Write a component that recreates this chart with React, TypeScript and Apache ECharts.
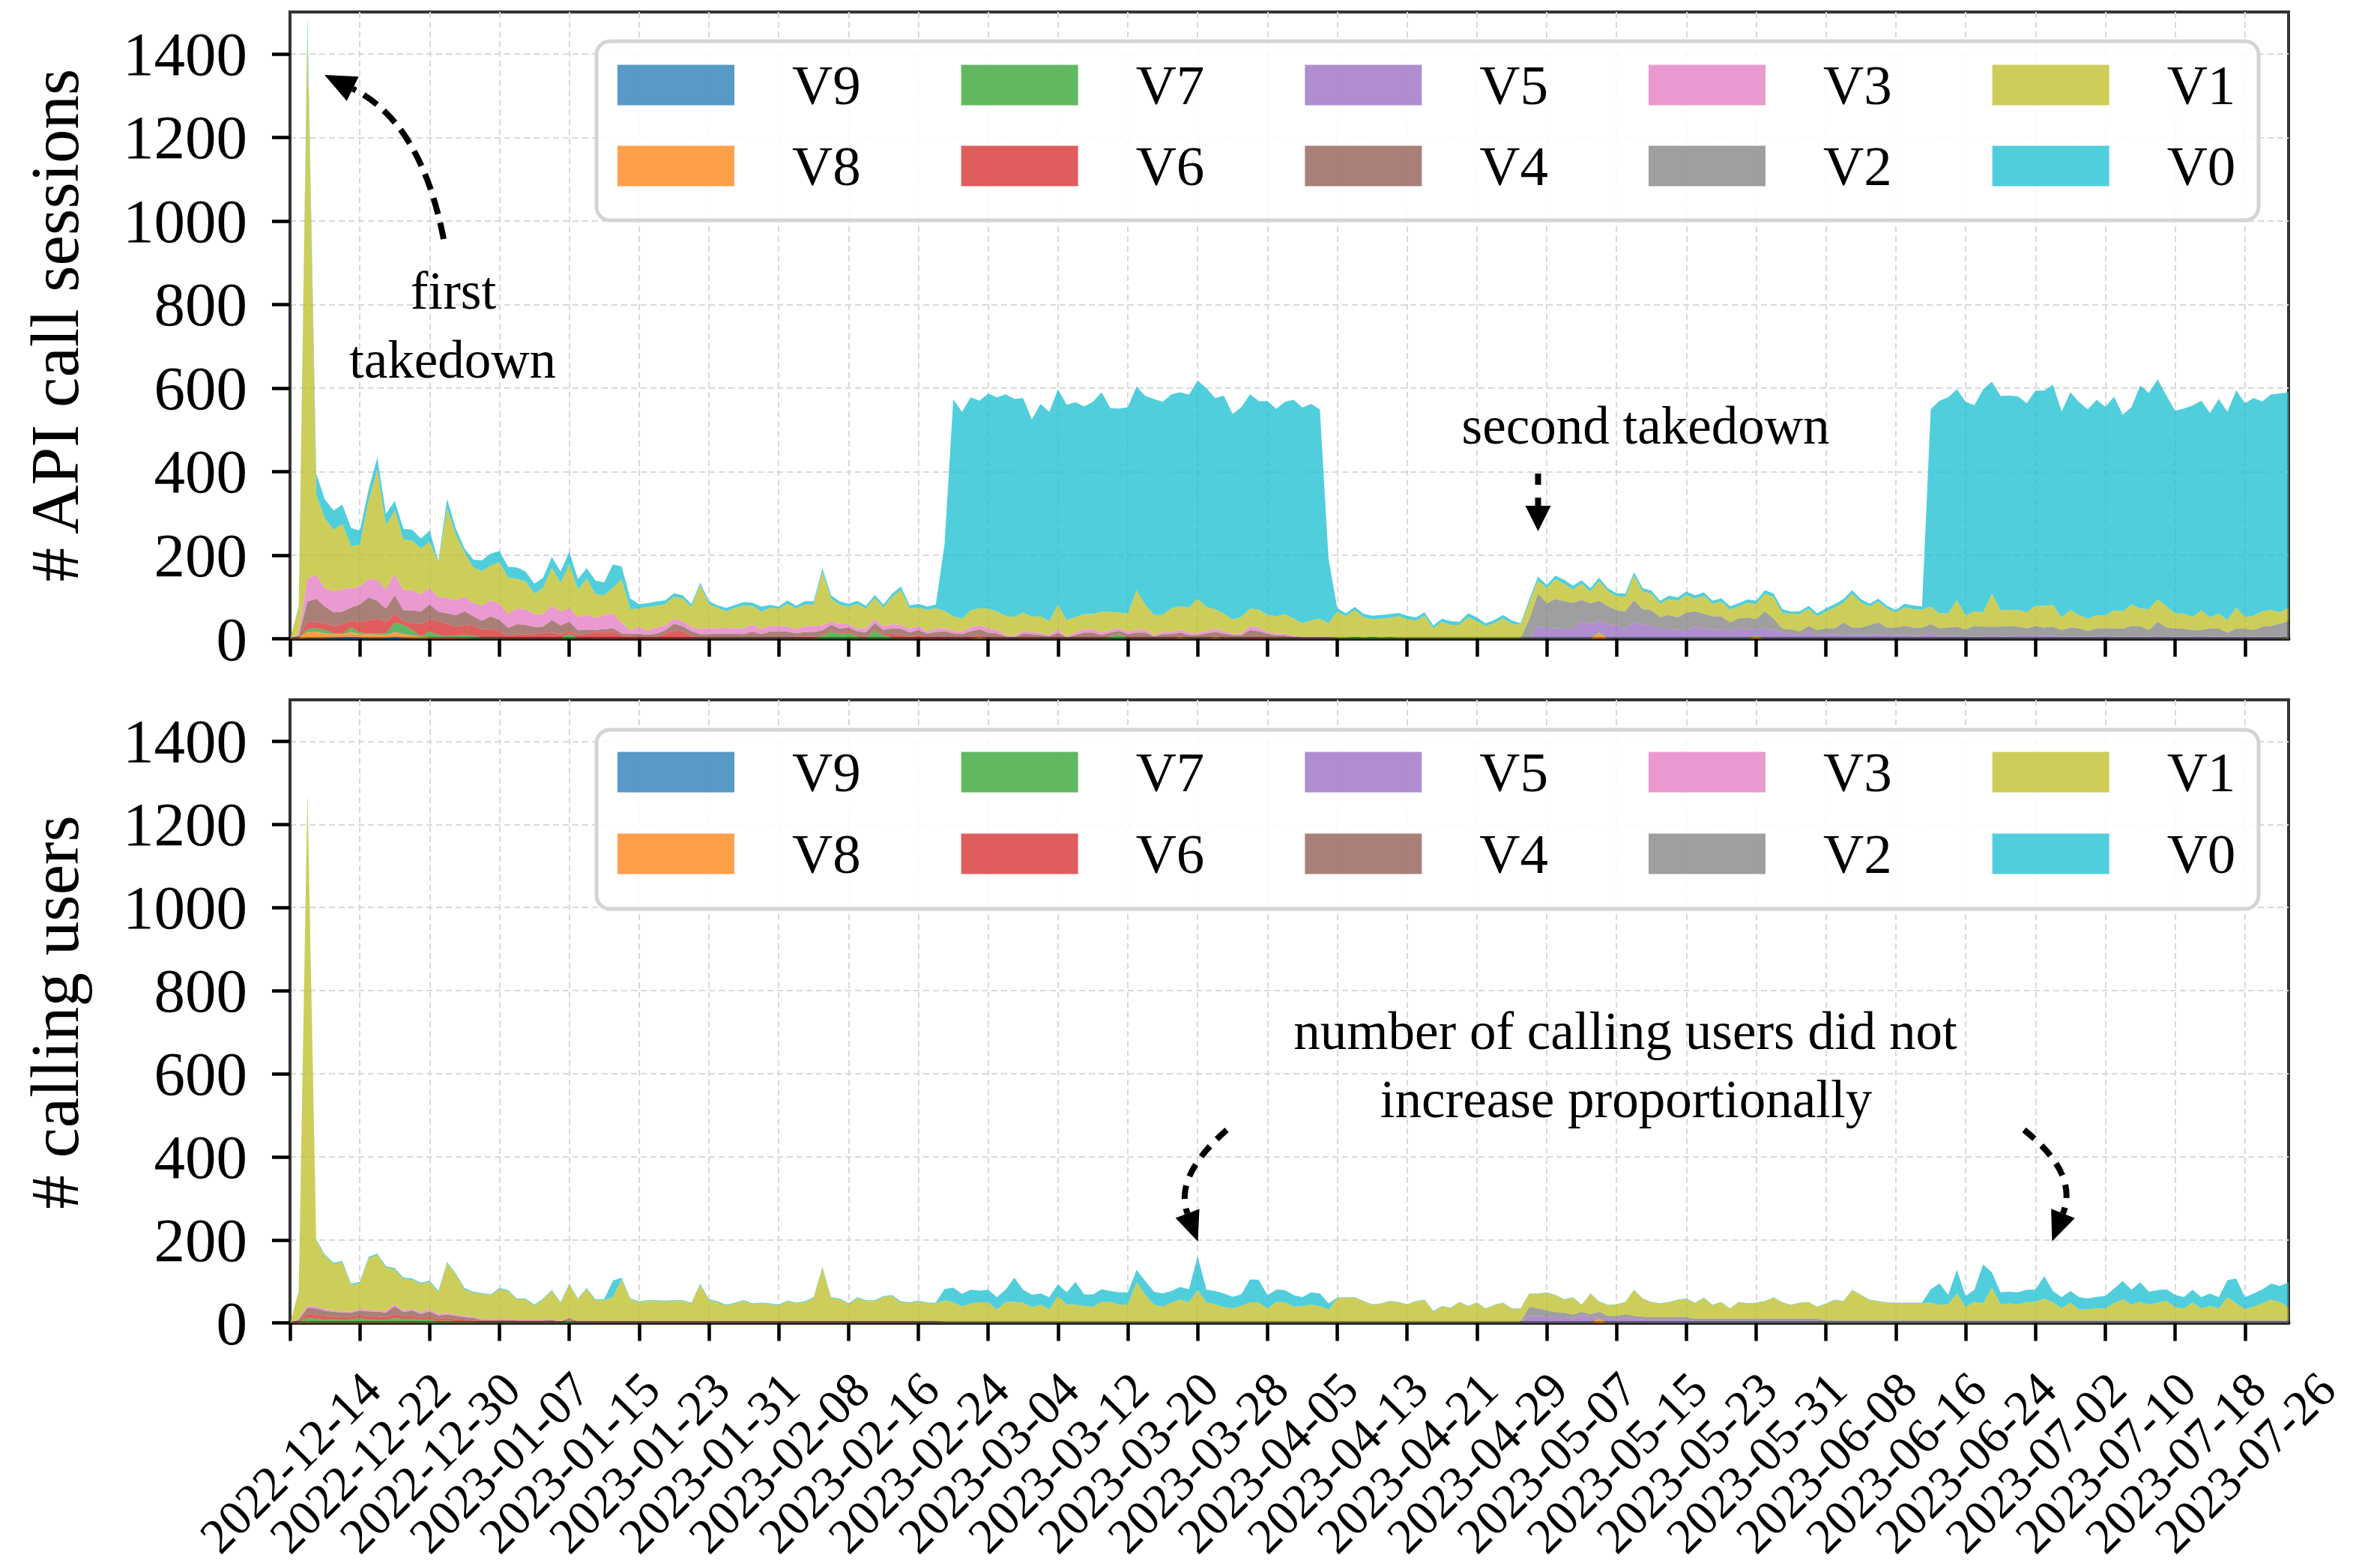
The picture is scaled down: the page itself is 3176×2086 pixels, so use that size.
import React, { useEffect, useRef } from "react";
import * as echarts from "echarts";

// ---------- categories ----------
const START_DATE = "2022-12-14"; // first day on the x axis, one value per day
const SERIES_NAMES = ["V9", "V8", "V7", "V6", "V5", "V4", "V3", "V2", "V1", "V0"];
const SERIES_COLORS = ["#1f77b4", "#ff7f0e", "#2ca02c", "#d62728", "#9467bd", "#8c564b", "#e377c2", "#7f7f7f", "#bcbd22", "#17becf"];
const Y_TICKS = [0, 200, 400, 600, 800, 1000, 1200, 1400];
const LEGEND_ROW1 = ["V9", "V7", "V5", "V3", "V1"];
const LEGEND_ROW2 = ["V8", "V6", "V4", "V2", "V0"];

// ---------- panel 1: # API call sessions (daily) ----------
const sessV0 = [
  0,3,30,51,45,46,46,43,34,27,
  28,28,23,25,26,24,27,3,23,15,
  9,18,26,29,27,26,27,24,24,24,
  26,27,30,25,25,32,31,56,31,25,
  11,9,10,9,8,8,7,6,7,6,
  8,7,8,7,12,7,5,8,7,8,
  8,7,8,8,7,7,7,7,7,8,
  9,8,9,8,9,159,519,495,510,497,
  515,513,530,522,513,472,508,501,516,515,
  514,497,508,525,488,488,494,488,500,517,
  510,512,512,509,522,524,505,522,492,502,
  513,499,512,496,508,524,516,518,501,154,
  8,7,7,9,8,9,9,8,8,8,
  8,7,8,9,8,9,9,7,8,8,
  8,4,7,9,8,8,9,9,8,8,
  8,7,7,8,8,8,7,7,8,8,
  8,8,8,7,8,8,7,8,8,8,
  8,10,5,6,7,7,7,8,8,8,
  8,7,7,7,6,9,9,8,472,509,
  517,504,512,493,534,507,513,513,511,501,
  515,515,527,493,521,509,501,515,500,511,
  470,472,534,517,527,504,485,491,506,502,
  489,514,498,520,512,521,502,516,524,515,
];
const sessV1 = [
  0,63,1310,192,167,147,156,101,99,187,
  264,152,152,121,119,109,111,83,214,157,
  106,86,82,83,99,86,71,67,49,63,
  90,68,105,66,86,57,48,61,104,51,
  44,56,52,51,53,54,48,104,58,49,
  40,49,55,45,42,43,41,54,49,52,
  51,130,54,46,42,59,47,50,45,65,
  83,48,45,51,49,42,35,31,40,41,
  47,44,46,46,44,37,40,33,58,40,
  37,36,36,50,43,38,43,94,59,48,
  41,57,56,60,83,57,47,42,34,40,
  42,43,41,42,47,40,32,39,43,32,
  63,52,64,49,42,46,46,52,45,41,
  53,23,38,31,31,50,40,28,35,47,
  34,31,40,32,36,48,42,32,39,28,
  47,36,34,34,59,42,40,32,38,40,
  42,30,43,30,35,31,29,35,36,42,
  52,37,37,42,41,33,41,50,48,81,
  60,44,50,45,36,44,44,42,42,36,
  34,64,33,35,34,79,39,38,40,38,
  48,52,52,30,42,32,29,32,30,43,
  42,51,42,50,53,51,36,36,31,47,
  26,36,30,51,28,34,37,38,27,33,
];
const sessV2 = [
  0,0,0,0,0,0,0,0,0,0,
  0,0,0,0,0,0,0,0,0,0,
  0,0,0,0,0,0,0,0,0,0,
  0,0,0,0,0,0,0,0,0,0,
  0,0,0,0,0,0,0,0,0,0,
  0,0,0,0,0,0,0,0,0,0,
  0,0,0,0,0,0,0,0,0,0,
  0,0,0,0,0,0,0,0,0,0,
  0,0,0,0,0,0,0,0,0,0,
  0,0,0,0,0,0,0,0,0,0,
  0,0,0,0,0,0,0,0,0,0,
  0,0,0,0,0,0,0,0,0,0,
  0,0,0,0,0,0,0,0,0,0,
  0,0,0,0,0,0,0,0,0,0,
  0,0,45,78,59,70,66,62,51,50,
  48,42,37,43,52,38,37,28,33,30,
  43,37,35,33,30,20,24,28,24,41,
  27,9,10,9,14,14,14,14,29,18,
  18,24,28,17,18,22,20,20,21,18,
  20,22,16,25,23,21,23,25,21,17,
  23,20,22,16,22,20,14,20,18,20,
  19,26,25,16,34,22,20,19,16,14,
  20,19,10,19,19,16,24,26,31,34,
];
const sessV3 = [
  0,5,56,57,44,51,54,46,44,44,
  50,47,51,49,48,42,39,35,37,36,
  35,31,37,38,39,34,38,37,31,30,
  35,34,32,32,36,29,33,36,25,9,
  16,10,15,12,12,12,10,13,14,13,
  14,13,14,17,12,14,13,13,10,14,
  15,12,9,11,8,7,10,11,9,10,
  9,9,9,6,8,7,6,6,10,9,
  10,8,3,2,7,5,5,3,8,2,
  6,8,8,6,6,6,6,7,7,3,
  5,5,7,6,4,6,8,6,3,4,
  9,9,4,4,4,3,2,2,2,2,
  0,0,0,0,0,0,0,0,0,0,
  0,0,0,0,0,0,0,0,0,0,
  0,0,0,0,0,0,0,0,0,0,
  0,0,0,0,0,0,0,0,0,0,
  0,0,0,0,0,0,0,0,0,0,
  0,0,0,0,0,0,0,0,0,0,
  0,0,0,0,0,0,0,0,0,0,
  0,0,0,0,0,0,0,0,0,0,
  0,0,0,0,0,0,0,0,0,0,
  0,0,0,0,0,0,0,0,0,0,
  0,0,0,0,0,0,0,0,0,0,
];
const sessV4 = [
  0,2,48,56,40,33,30,32,41,55,
  43,31,44,26,31,30,36,23,25,27,
  33,23,20,30,27,18,25,22,17,14,
  30,22,23,11,10,5,8,8,5,6,
  8,6,7,8,16,12,12,9,9,10,
  10,10,9,15,9,15,16,15,8,11,
  11,10,13,9,10,10,10,14,10,13,
  15,10,12,8,12,14,10,8,14,15,
  11,10,4,2,9,8,7,4,12,1,
  7,12,12,7,8,6,8,12,12,4,
  8,8,9,7,7,10,10,9,7,6,
  17,15,9,6,6,3,1,1,1,1,
  0,0,0,0,0,0,0,0,0,0,
  0,0,0,0,0,0,0,0,0,0,
  0,0,0,0,0,0,0,0,0,0,
  0,0,0,0,0,0,0,0,0,0,
  0,0,0,0,0,0,0,0,0,0,
  0,0,0,0,0,0,0,0,0,0,
  0,0,0,0,0,0,0,0,0,0,
  0,0,0,0,0,0,0,0,0,0,
  0,0,0,0,0,0,0,0,0,0,
  0,0,0,0,0,0,0,0,0,0,
  0,0,0,0,0,0,0,0,0,0,
];
const sessV5 = [
  0,0,0,0,0,0,0,0,0,0,
  0,0,0,0,0,0,0,0,0,0,
  0,0,0,0,0,0,0,0,0,0,
  0,0,0,0,0,0,0,0,0,0,
  0,0,0,0,0,0,0,0,0,0,
  0,0,0,0,0,0,0,0,0,0,
  0,0,0,0,0,0,0,0,0,0,
  0,0,0,0,0,0,0,0,0,0,
  0,0,0,0,0,0,0,0,0,0,
  0,0,0,0,0,0,0,0,0,0,
  0,0,0,0,0,0,0,0,0,0,
  0,0,0,0,0,0,0,0,0,0,
  0,0,0,0,0,0,0,0,0,0,
  0,0,0,0,0,0,0,0,0,0,
  0,0,0,28,24,23,22,22,40,33,
  26,34,29,21,38,31,29,22,22,19,
  18,27,23,19,22,17,23,21,15,23,
  19,13,11,7,15,5,9,9,8,7,
  7,7,9,8,7,7,5,5,12,5,
  5,5,4,4,4,6,4,4,6,6,
  6,5,5,3,3,3,3,3,5,3,
  3,3,3,3,5,3,3,3,3,5,
  3,3,3,3,3,3,3,3,3,3,
];
const sessV6 = [
  0,2,17,15,16,17,23,16,26,31,
  35,28,21,9,16,29,28,33,30,21,
  24,24,20,21,15,7,9,10,10,14,
  14,9,6,8,11,15,14,16,7,4,
  3,3,4,11,19,17,5,1,1,1,
  1,1,1,1,1,1,1,1,3,3,
  3,3,3,3,3,3,3,3,3,9,
  7,3,7,3,3,3,2,2,3,3,
  3,2,1,1,2,2,1,1,2,1,
  1,2,2,1,2,2,2,2,2,1,
  2,2,2,1,1,2,2,2,1,1,
  3,2,2,1,1,1,1,1,1,1,
  0,0,0,0,0,0,0,0,0,0,
  0,0,0,0,0,0,0,0,0,0,
  0,0,0,0,0,0,0,0,0,0,
  0,0,0,0,0,0,0,0,0,0,
  0,0,0,0,0,0,0,0,0,0,
  0,0,0,0,0,0,0,0,0,0,
  0,0,0,0,0,0,0,0,0,0,
  0,0,0,0,0,0,0,0,0,0,
  0,0,0,0,0,0,0,0,0,0,
  0,0,0,0,0,0,0,0,0,0,
  0,0,0,0,0,0,0,0,0,0,
];
const sessV7 = [
  0,1,7,8,8,2,1,11,4,2,
  3,4,23,22,13,1,14,6,3,5,
  6,5,1,1,1,1,1,1,1,1,
  1,1,12,1,1,1,1,1,1,1,
  1,1,1,1,1,1,1,1,1,1,
  1,1,1,1,1,1,1,1,2,2,
  2,7,17,12,14,5,2,20,8,3,
  2,2,2,1,1,1,1,1,1,1,
  1,1,1,1,1,1,1,1,1,1,
  1,1,1,1,5,11,1,1,1,1,
  1,1,1,1,1,1,1,1,1,1,
  1,1,1,1,1,1,1,1,1,1,
  2,2,5,2,5,2,4,2,2,2,
  2,2,2,2,2,2,2,2,2,2,
  2,2,2,2,2,2,2,2,2,2,
  2,2,2,2,2,2,2,2,2,2,
  2,2,2,2,2,2,2,2,2,2,
  2,2,2,2,2,2,2,2,2,2,
  2,2,2,2,2,2,2,2,2,2,
  2,2,2,2,2,2,2,2,2,2,
  2,2,2,2,2,2,2,2,2,2,
  2,2,2,2,2,2,2,2,2,2,
  2,2,2,2,2,2,2,2,2,2,
];
const sessV8 = [
  0,2,15,15,11,8,8,11,8,9,
  8,7,12,9,7,4,3,2,2,2,
  2,1,1,1,1,0,0,0,0,0,
  0,0,0,0,0,0,0,0,0,0,
  0,0,0,0,0,0,0,0,0,0,
  0,0,0,0,0,0,0,0,0,0,
  0,0,0,0,0,0,0,0,0,0,
  0,0,0,0,0,0,0,0,0,4,
  0,0,0,0,0,0,0,0,0,0,
  0,0,0,0,0,0,0,0,0,0,
  0,0,3,0,0,0,3,0,0,0,
  0,0,0,0,0,0,0,0,0,0,
  0,0,0,0,0,0,0,0,0,0,
  0,0,0,0,0,0,0,0,0,0,
  0,0,0,0,0,0,0,0,0,0,
  15,0,0,0,0,0,0,0,0,0,
  0,0,0,0,0,0,0,0,6,0,
  0,0,0,0,0,0,0,0,0,0,
  0,0,0,0,0,0,0,0,0,0,
  0,0,0,0,0,0,0,0,0,0,
  0,0,0,0,0,0,0,0,0,0,
  0,0,0,0,0,0,0,0,0,0,
  0,0,0,0,0,0,0,0,0,3,
];
const sessV9 = [
  0,0,2,2,2,3,3,5,3,2,
  2,2,4,2,1,1,1,1,1,1,
  1,1,1,1,1,0,0,0,0,0,
  0,0,0,0,0,0,0,0,0,0,
  0,0,0,0,0,0,0,0,0,0,
  0,0,0,0,0,0,0,0,0,0,
  0,0,0,0,0,0,0,0,0,0,
  0,0,0,0,0,0,0,0,0,0,
  0,0,0,0,0,0,0,0,0,0,
  0,0,0,0,0,0,0,0,0,0,
  0,0,0,0,0,0,0,0,0,0,
  0,0,0,0,0,0,0,0,0,0,
  0,0,0,0,0,0,0,0,0,0,
  0,0,0,0,0,0,0,0,0,0,
  0,0,0,0,0,0,0,0,0,0,
  0,0,0,0,0,0,0,0,0,0,
  0,0,0,0,0,0,0,0,0,0,
  0,0,0,0,0,0,0,0,0,0,
  0,0,0,0,0,0,0,0,0,0,
  0,0,0,0,0,0,0,0,0,0,
  0,0,0,0,0,0,0,0,0,0,
  0,0,0,0,0,0,0,0,0,0,
  0,0,0,0,0,0,0,0,0,0,
];

// ---------- panel 2: # calling users (daily) ----------
const usersV0 = [
  0,2,7,3,3,3,3,3,3,3,
  3,3,3,3,3,3,3,3,3,3,
  3,2,2,2,2,2,2,2,2,2,
  2,2,2,2,2,2,2,40,3,2,
  2,2,2,2,2,2,2,2,2,2,
  2,2,2,2,2,2,2,2,2,2,
  2,2,2,2,2,2,2,2,2,2,
  2,2,2,2,2,27,35,30,33,28,
  30,30,29,58,31,30,27,29,28,30,
  55,28,30,30,26,30,29,30,33,31,
  32,28,31,31,82,30,32,33,28,28,
  55,55,32,29,29,28,21,30,30,15,
  1,1,1,1,1,1,1,1,1,1,
  1,1,1,1,1,1,1,1,1,1,
  1,1,1,1,1,1,1,1,1,1,
  1,1,1,1,1,1,1,1,1,1,
  1,1,1,1,1,1,1,1,1,1,
  1,1,1,1,1,1,1,1,1,1,
  1,1,1,1,1,1,1,1,32,51,
  23,57,27,29,94,37,29,28,29,30,
  29,54,27,27,28,30,26,28,30,36,
  44,36,47,31,30,28,30,27,31,27,
  30,27,41,60,29,32,34,39,39,60,
];
const usersV1 = [
  0,65,1228,159,129,112,118,64,62,124,
  134,105,84,76,70,68,66,52,120,96,
  64,58,60,57,72,67,49,49,34,49,
  68,43,78,52,77,50,50,57,101,52,
  45,48,48,47,48,48,42,88,50,45,
  37,42,48,40,42,40,37,47,42,45,
  55,128,55,52,40,55,48,48,58,60,
  45,43,47,42,42,52,47,37,44,47,
  47,29,48,48,46,35,41,30,62,41,
  41,38,36,48,48,41,42,95,65,41,
  36,46,53,47,76,47,42,35,32,38,
  47,46,32,48,47,36,38,41,38,29,
  57,58,58,49,41,43,49,47,41,49,
  52,25,37,33,47,37,46,31,40,45,
  31,31,31,35,42,41,31,41,16,49,
  24,26,27,29,62,43,36,32,36,40,
  44,38,50,33,40,24,40,36,38,42,
  51,39,33,38,40,28,40,49,46,73,
  61,49,46,43,42,42,42,42,43,38,
  39,65,32,45,41,79,39,41,39,44,
  45,53,44,29,43,26,27,29,29,41,
  51,38,45,38,43,47,32,29,43,29,
  35,29,56,41,27,33,41,50,44,32,
];
const usersV2 = [
  0,0,0,0,0,0,0,0,0,0,
  0,0,0,0,0,0,0,0,0,0,
  0,0,0,0,0,0,0,0,0,0,
  0,0,0,0,0,0,0,0,0,0,
  0,0,0,0,0,0,0,0,0,0,
  0,0,0,0,0,0,0,0,0,0,
  0,0,0,0,0,0,0,0,0,0,
  0,0,0,0,0,0,0,0,0,0,
  0,0,0,0,0,0,0,0,0,0,
  0,0,0,0,0,0,0,0,0,0,
  0,0,0,0,0,0,0,0,0,0,
  0,0,0,0,0,0,0,0,0,0,
  0,0,0,0,0,0,0,0,0,0,
  0,0,0,0,0,0,0,0,0,0,
  0,0,22,18,16,12,11,9,8,7,
  15,6,8,7,7,6,6,6,6,7,
  7,5,5,5,5,5,5,5,5,5,
  5,5,5,5,5,5,3,3,3,3,
  3,3,3,3,3,3,3,3,3,3,
  3,3,3,3,3,3,3,3,3,3,
  3,3,3,3,3,3,3,3,3,3,
  3,3,3,3,3,3,3,3,3,3,
  3,3,3,3,3,3,3,3,3,3,
];
const usersV3 = [
  0,2,5,5,4,3,3,3,4,4,
  3,4,5,4,4,4,5,4,4,3,
  3,3,3,3,3,3,2,2,2,2,
  2,1,2,1,1,1,1,1,1,1,
  1,1,1,1,1,1,1,1,1,1,
  1,1,1,1,1,1,1,1,1,1,
  1,1,1,1,1,1,1,1,1,1,
  1,1,1,1,1,1,1,1,1,1,
  1,1,1,1,1,1,1,1,1,1,
  1,1,1,1,1,1,1,1,1,1,
  1,1,1,1,1,1,1,1,1,1,
  1,1,1,1,1,1,1,1,1,1,
  1,1,1,1,1,1,1,1,1,1,
  1,1,1,1,1,1,1,1,1,1,
  1,1,0,0,0,0,0,0,0,0,
  0,0,0,0,0,0,0,0,0,0,
  0,0,0,0,0,0,0,0,0,0,
  0,0,0,0,0,0,0,0,0,0,
  0,0,0,0,0,0,0,0,0,0,
  0,0,0,0,0,0,0,0,0,0,
  0,0,0,0,0,0,0,0,0,0,
  0,0,0,0,0,0,0,0,0,0,
  0,0,0,0,0,0,0,0,0,0,
];
const usersV4 = [
  0,3,15,15,12,12,11,9,12,12,
  12,11,18,10,12,9,12,8,8,8,
  6,6,3,3,3,3,2,2,2,2,
  3,2,3,2,2,2,2,2,2,2,
  2,2,2,2,2,2,2,2,2,2,
  2,2,2,2,2,2,2,2,2,2,
  2,2,2,2,2,2,2,2,2,2,
  2,2,2,2,2,1,1,1,1,1,
  1,1,1,1,1,1,1,1,1,1,
  1,1,1,1,1,1,1,1,1,1,
  1,1,1,1,1,1,1,1,1,1,
  1,1,1,1,1,1,1,1,1,1,
  1,1,1,1,1,1,1,1,1,1,
  1,1,1,1,1,1,1,1,1,1,
  1,1,0,0,0,0,0,0,0,0,
  0,0,0,0,0,0,0,0,0,0,
  0,0,0,0,0,0,0,0,0,0,
  0,0,0,0,0,0,0,0,0,0,
  0,0,0,0,0,0,0,0,0,0,
  0,0,0,0,0,0,0,0,0,0,
  0,0,0,0,0,0,0,0,0,0,
  0,0,0,0,0,0,0,0,0,0,
  0,0,0,0,0,0,0,0,0,0,
];
const usersV5 = [
  0,0,0,0,0,0,0,0,0,0,
  0,0,0,0,0,0,0,0,0,0,
  0,0,0,0,0,0,0,0,0,0,
  0,0,0,0,0,0,0,0,0,0,
  0,0,0,0,0,0,0,0,0,0,
  0,0,0,0,0,0,0,0,0,0,
  0,0,0,0,0,0,0,0,0,0,
  0,0,0,0,0,0,0,0,0,0,
  0,0,0,0,0,0,0,0,0,0,
  0,0,0,0,0,0,0,0,0,0,
  0,0,0,0,0,0,0,0,0,0,
  0,0,0,0,0,0,0,0,0,0,
  0,0,0,0,0,0,0,0,0,0,
  0,0,0,0,0,0,0,0,0,0,
  0,0,16,16,14,13,13,10,18,13,
  1,10,8,13,9,8,7,7,7,7,
  6,4,4,4,4,4,4,4,4,4,
  4,4,4,4,4,4,2,2,2,2,
  2,2,2,2,2,2,2,2,2,2,
  2,2,2,2,2,2,2,2,2,2,
  2,2,2,2,2,2,2,2,2,2,
  2,2,2,2,2,2,2,2,2,2,
  2,2,2,2,2,2,2,2,2,2,
];
const usersV6 = [
  0,2,10,10,9,7,7,6,6,8,
  8,7,10,6,8,6,7,5,6,5,
  4,3,2,2,2,2,2,2,2,2,
  2,1,3,1,1,1,1,1,1,1,
  1,1,1,1,1,1,1,1,1,1,
  1,1,1,1,1,1,1,1,1,1,
  1,1,1,1,1,1,1,1,1,1,
  1,1,1,1,1,0,0,0,0,0,
  0,0,0,0,0,0,0,0,0,0,
  0,0,0,0,0,0,0,0,0,0,
  0,0,0,0,0,0,0,0,0,0,
  0,0,0,0,0,0,0,0,0,0,
  0,0,0,0,0,0,0,0,0,0,
  0,0,0,0,0,0,0,0,0,0,
  0,0,0,0,0,0,0,0,0,0,
  0,0,0,0,0,0,0,0,0,0,
  0,0,0,0,0,0,0,0,0,0,
  0,0,0,0,0,0,0,0,0,0,
  0,0,0,0,0,0,0,0,0,0,
  0,0,0,0,0,0,0,0,0,0,
  0,0,0,0,0,0,0,0,0,0,
  0,0,0,0,0,0,0,0,0,0,
  0,0,0,0,0,0,0,0,0,0,
];
const usersV7 = [
  0,2,9,8,6,6,5,7,10,6,
  5,5,10,8,8,6,8,4,5,3,
  3,2,2,2,2,2,2,2,2,2,
  2,1,6,1,1,1,1,1,1,1,
  1,1,1,1,1,1,1,1,1,1,
  1,1,1,1,1,1,1,1,1,1,
  1,1,1,1,1,1,1,1,1,1,
  1,1,1,1,1,1,1,1,1,1,
  1,1,1,1,1,1,1,1,1,1,
  1,1,1,1,1,1,1,1,1,1,
  1,1,1,1,1,1,1,1,1,1,
  1,1,1,1,1,1,1,1,1,1,
  1,1,1,1,1,1,1,1,1,1,
  1,1,1,1,1,1,1,1,1,1,
  1,1,1,1,1,1,1,1,1,1,
  1,1,1,1,1,1,1,1,1,1,
  1,1,1,1,1,1,1,1,1,1,
  1,1,1,1,1,1,1,1,1,1,
  1,1,1,1,1,1,1,1,1,1,
  1,1,1,1,1,1,1,1,1,1,
  1,1,1,1,1,1,1,1,1,1,
  1,1,1,1,1,1,1,1,1,1,
  1,1,1,1,1,1,1,1,1,1,
];
const usersV8 = [
  0,1,3,2,2,2,2,2,2,2,
  2,2,2,2,2,1,1,1,1,1,
  1,1,0,0,0,0,0,0,0,0,
  0,0,0,0,0,0,0,0,0,0,
  0,0,0,0,0,0,0,0,0,0,
  0,0,0,0,0,0,0,0,0,0,
  0,0,0,0,0,0,0,0,0,0,
  0,0,0,0,0,0,0,0,0,0,
  0,0,0,0,0,0,0,0,0,0,
  0,0,0,0,0,0,0,0,0,0,
  0,0,0,0,0,0,0,0,0,0,
  0,0,0,0,0,0,0,0,0,0,
  0,0,0,0,0,0,0,0,0,0,
  0,0,0,0,0,0,0,0,0,0,
  0,0,0,0,0,0,0,0,0,0,
  10,0,0,0,0,0,0,0,0,0,
  0,0,0,0,0,0,0,0,0,0,
  0,0,0,0,0,0,0,0,0,0,
  0,0,0,0,0,0,0,0,0,0,
  0,0,0,0,0,0,0,0,0,0,
  0,0,0,0,0,0,0,0,0,0,
  0,0,0,0,0,0,0,0,0,0,
  0,0,0,0,0,0,0,0,0,0,
];
const usersV9 = [
  0,0,0,0,0,0,0,0,0,0,
  0,0,0,0,0,0,0,0,0,0,
  0,0,0,0,0,0,0,0,0,0,
  0,0,0,0,0,0,0,0,0,0,
  0,0,0,0,0,0,0,0,0,0,
  0,0,0,0,0,0,0,0,0,0,
  0,0,0,0,0,0,0,0,0,0,
  0,0,0,0,0,0,0,0,0,0,
  0,0,0,0,0,0,0,0,0,0,
  0,0,0,0,0,0,0,0,0,0,
  0,0,0,0,0,0,0,0,0,0,
  0,0,0,0,0,0,0,0,0,0,
  0,0,0,0,0,0,0,0,0,0,
  0,0,0,0,0,0,0,0,0,0,
  0,0,0,0,0,0,0,0,0,0,
  0,0,0,0,0,0,0,0,0,0,
  0,0,0,0,0,0,0,0,0,0,
  0,0,0,0,0,0,0,0,0,0,
  0,0,0,0,0,0,0,0,0,0,
  0,0,0,0,0,0,0,0,0,0,
  0,0,0,0,0,0,0,0,0,0,
  0,0,0,0,0,0,0,0,0,0,
  0,0,0,0,0,0,0,0,0,0,
];

const SESSIONS = [sessV9, sessV8, sessV7, sessV6, sessV5, sessV4, sessV3, sessV2, sessV1, sessV0];
const USERS = [usersV9, usersV8, usersV7, usersV6, usersV5, usersV4, usersV3, usersV2, usersV1, usersV0];

// ---------- layout / style ----------
const W = 3176;
const H = 2086;
const FONT = "'Liberation Serif', 'Times New Roman', 'DejaVu Serif', serif";
const GRID_LEFT = 387;
const GRID_RIGHT = 122;
const GRIDS = [
  { top: 16, height: 836.5 },
  { top: 934, height: 834 },
];

function buildDates(n: number): string[] {
  const [y, m, d] = START_DATE.split("-").map(Number);
  const t0 = Date.UTC(y, m - 1, d);
  const out: string[] = [];
  for (let i = 0; i < n; i++) out.push(new Date(t0 + i * 86400000).toISOString().slice(0, 10));
  return out;
}

type Pt = [number, number];
function curvedArrow(S: Pt, C: Pt, T: Pt, dash: number[], headLen = 40, headHalf = 17, lw = 7.5) {
  const dx = T[0] - C[0];
  const dy = T[1] - C[1];
  const L = Math.hypot(dx, dy);
  const ux = dx / L;
  const uy = dy / L;
  const B: Pt = [T[0] - headLen * ux, T[1] - headLen * uy];
  const nx = -uy;
  const ny = ux;
  return [
    {
      type: "bezierCurve",
      z: 20,
      shape: { x1: S[0], y1: S[1], x2: B[0], y2: B[1], cpx1: C[0], cpy1: C[1] },
      style: { stroke: "#000", lineWidth: lw, lineDash: dash, fill: "none" },
    },
    {
      type: "polygon",
      z: 20,
      shape: { points: [T, [B[0] + headHalf * nx, B[1] + headHalf * ny], [B[0] - headHalf * nx, B[1] - headHalf * ny]] },
      style: { fill: "#000" },
    },
  ];
}

function textEl(text: string, x: number, y: number, size: number, rotation = 0) {
  return {
    type: "text",
    z: 20,
    x,
    y,
    rotation,
    style: { text, fontSize: size, fontFamily: FONT, fill: "#000", align: "center", verticalAlign: "middle" },
  };
}

function legendFrame(top: number) {
  return {
    type: "rect",
    z: 3,
    shape: { x: 796, y: top, width: 2218, height: 239, r: 18 },
    style: { fill: "rgba(255,255,255,0.85)", stroke: "#d4d4d4", lineWidth: 5 },
  };
}

function buildOption() {
  const n = sessV0.length;
  const dates = buildDates(n);

  const grid = GRIDS.map((g) => ({
    left: GRID_LEFT,
    right: GRID_RIGHT,
    top: g.top,
    height: g.height,
    show: true,
    borderColor: "#333",
    borderWidth: 4,
    backgroundColor: "transparent",
  }));

  const xAxis = [0, 1].map((g) => ({
    type: "category",
    gridIndex: g,
    data: dates,
    boundaryGap: false,
    axisLine: { show: true, lineStyle: { color: "#222", width: 5 } },
    axisTick: { show: true, interval: 7, length: 24, lineStyle: { color: "#000", width: 4.5 } },
    axisLabel:
      g === 1
        ? {
            show: true,
            interval: 7,
            rotate: 45,
            align: "center",
            verticalAlign: "middle",
            margin: 186,
            fontSize: 66,
            fontFamily: FONT,
            color: "#000",
          }
        : { show: false },
    splitLine: { show: true, interval: 7, lineStyle: { color: "#d9d9d9", width: 2, type: [8, 5] } },
  }));

  const yAxis = [0, 1].map((g) => ({
    type: "value",
    gridIndex: g,
    min: 0,
    max: 1500,
    interval: 200,
    axisLine: { show: true, lineStyle: { color: "#333", width: 4 } },
    axisTick: { show: true, length: 24, customValues: Y_TICKS, lineStyle: { color: "#000", width: 4.5 } },
    axisLabel: {
      show: true,
      customValues: Y_TICKS,
      margin: 57,
      fontSize: 83,
      fontFamily: FONT,
      color: "#000",
      formatter: (v: number) => String(v),
    },
    splitLine: { show: true, lineStyle: { color: "#d9d9d9", width: 2, type: [8, 5] } },
  }));

  const series: any[] = [];
  [SESSIONS, USERS].forEach((set, g) => {
    set.forEach((data, k) => {
      series.push({
        name: SERIES_NAMES[k],
        type: "line",
        xAxisIndex: g,
        yAxisIndex: g,
        stack: "panel" + g,
        data,
        symbol: "none",
        showSymbol: false,
        silent: true,
        z: 2,
        lineStyle: { width: 0, opacity: 0 },
        itemStyle: { color: SERIES_COLORS[k] },
        areaStyle: { color: SERIES_COLORS[k], opacity: 0.75 },
        emphasis: { disabled: true },
      });
    });
  });

  const legendBase = (names: string[], top: number) => ({
    data: names,
    left: 824,
    top,
    orient: "horizontal",
    icon: "rect",
    itemWidth: 156,
    itemHeight: 54,
    itemGap: 134,
    padding: 0,
    selectedMode: false,
    z: 5,
    itemStyle: { opacity: 0.75, borderWidth: 0 },
    textStyle: { fontSize: 75, fontFamily: FONT, color: "#000", padding: [0, 0, 0, 72], lineHeight: 54 },
  });

  const legend = [
    legendBase(LEGEND_ROW1, 76),
    legendBase(LEGEND_ROW2, 184),
    legendBase(LEGEND_ROW1, 993),
    legendBase(LEGEND_ROW2, 1102),
  ];

  const graphic: any[] = [
    legendFrame(55),
    legendFrame(974),
    textEl("# API call sessions", 73, 434, 91, Math.PI / 2),
    textEl("# calling users", 73, 1351, 91, Math.PI / 2),
    textEl("first", 605, 388, 71),
    textEl("takedown", 604, 480, 71),
    textEl("second takedown", 2196, 568, 71),
    textEl("number of calling users did not", 2169, 1376, 71),
    textEl("increase proportionally", 2170, 1467, 71),
    ...curvedArrow([592, 319], [561.8, 163.3], [433, 100], [22, 12], 42, 18, 8),
    ...curvedArrow([2052.5, 632], [2052.5, 660], [2052.5, 709], [15, 17], 34, 17, 8),
    ...curvedArrow([1637, 1508], [1566.3, 1570.2], [1598.5, 1657], [18, 13], 40, 17, 8),
    ...curvedArrow([2701, 1508], [2773.9, 1566], [2738.4, 1656.7], [18, 13], 40, 17, 8),
  ];

  return {
    animation: false,
    backgroundColor: "#ffffff",
    textStyle: { fontFamily: FONT },
    grid,
    xAxis,
    yAxis,
    legend,
    series,
    graphic,
  };
}

export default function App() {
  const ref = useRef<HTMLDivElement | null>(null);
  useEffect(() => {
    if (!ref.current) return;
    const chart = echarts.init(ref.current, undefined, { renderer: "svg", width: W, height: H });
    chart.setOption(buildOption() as any);
    return () => chart.dispose();
  }, []);
  return <div ref={ref} style={{ position: "fixed", left: 0, top: 0, width: W, height: H, background: "#fff" }} />;
}
